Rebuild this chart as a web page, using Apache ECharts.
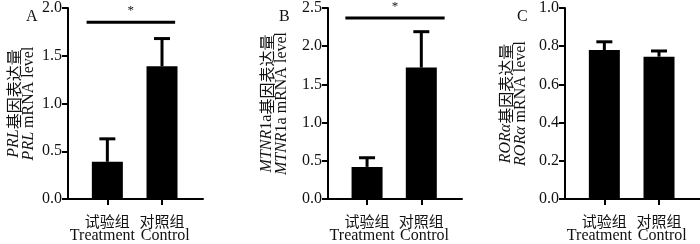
<!DOCTYPE html>
<html>
<head>
<meta charset="utf-8">
<script src="https://cdn.jsdelivr.net/npm/echarts@6/dist/echarts.min.js"></script>
<style>
  html, body { margin: 0; padding: 0; background: #fff; }
  #chart { width: 700px; height: 244px; }
</style>
</head>
<body>
<div id="chart"></div>
<script>
// groups on the x axis (position 1 and 2)
const groupPos = [1, 2];
const groupsCn = ['试验组', '对照组'];
const groupsEn = ['Treatment', 'Control'];
// english line sits a little off the bar centres, like the original
const groupsEnPos = [0.91, 2.06];

// A: PRL
const prlMean = [0.39, 1.39];
const prlErr = [0.24, 0.29];
// B: MTNR1a
const mtnrMean = [0.42, 1.72];
const mtnrErr = [0.12, 0.47];
// C: RORα
const roraMean = [0.78, 0.745];
const roraErr = [0.043, 0.03];

// significance bar: [from, to, y]
const sigA = [0.62, 2.24, 1.85];
const sigB = [0.6, 2.43, 2.37];

const yMaxes = [2, 2.5, 1];
const yStep = [0.5, 0.5, 0.2];

const serif = 'Liberation Serif';
const cjk = 'Noto Sans CJK SC';
const ink = '#111';

const chart = echarts.init(document.getElementById('chart'));

const grids = [
  { left: 68, top: 6, width: 135, bottom: 40 },
  { left: 328, top: 7, width: 134, bottom: 40 },
  { left: 565, top: 5, width: 135, bottom: 40 }
];

const yNames = [
  '{i|PRL}{c|基因表达量}\n{i|PRL}{t| mRNA level}',
  '{i|MTNR}{t|1a}{c|基因表达量}\n{i|MTNR}{t|1a mRNA level}',
  '{i|RORα}{c|基因表达量}\n{i|RORα}{t| mRNA level}'
];
const nameGaps = [32, 39, 37];

const nameRich = {
  i: { fontFamily: serif, fontStyle: 'italic', fontSize: 16, lineHeight: 15, color: ink },
  t: { fontFamily: serif, fontSize: 16, lineHeight: 15, color: ink },
  c: { fontFamily: cjk, fontSize: 16, lineHeight: 15, color: ink }
};

const axisLine = { show: true, lineStyle: { color: '#000', width: 2 } };
const axisTick = { show: true, length: 6, lineStyle: { color: '#000', width: 2 } };

const xAxes = grids.map((g, i) => ({
  type: 'value',
  gridIndex: i,
  position: 'bottom',
  min: 0.28,
  max: 2.75,
  splitLine: { show: false },
  axisLine: axisLine,
  axisTick: Object.assign({ customValues: groupPos }, axisTick),
  axisLabel: {
    customValues: groupPos,
    margin: 15,
    fontFamily: cjk,
    fontSize: 15,
    color: ink,
    formatter: v => groupsCn[v - 1]
  }
}));
// second bottom axis per panel carrying the english line
grids.forEach((g, i) => {
  xAxes.push({
    type: 'value',
    gridIndex: i,
    position: 'bottom',
    offset: 0,
    min: 0.28,
    max: 2.75,
    splitLine: { show: false },
    axisLine: { show: false },
    axisTick: { show: false },
    axisLabel: {
      customValues: groupsEnPos,
      margin: 29,
      fontFamily: serif,
      fontSize: 16,
      color: ink,
      formatter: v => groupsEn[groupsEnPos.indexOf(v)]
    }
  });
});

const yAxes = grids.map((g, i) => ({
  type: 'value',
  gridIndex: i,
  min: 0,
  max: yMaxes[i],
  interval: yStep[i],
  splitLine: { show: false },
  axisLine: axisLine,
  axisTick: axisTick,
  axisLabel: {
    margin: 6,
    fontFamily: serif,
    fontSize: 16,
    color: ink,
    formatter: v => v.toFixed(1)
  },
  name: yNames[i],
  nameLocation: 'middle',
  nameGap: nameGaps[i],
  nameRotate: 90,
  nameTextStyle: { rich: nameRich }
}));

function errItem(params, api) {
  const x = api.value(0), y = api.value(1), e = api.value(2);
  const base = api.coord([x, y]);
  const top = api.coord([x, y + e]);
  return {
    type: 'group',
    children: [
      { type: 'line', shape: { x1: base[0], y1: base[1], x2: top[0], y2: top[1] }, style: { stroke: '#000', lineWidth: 3 } },
      { type: 'line', shape: { x1: top[0] - 8, y1: top[1], x2: top[0] + 8, y2: top[1] }, style: { stroke: '#000', lineWidth: 3 } }
    ]
  };
}

function sigItem(params, api) {
  const a = api.coord([api.value(0), api.value(2)]);
  const b = api.coord([api.value(1), api.value(2)]);
  return {
    type: 'group',
    children: [
      { type: 'line', shape: { x1: a[0], y1: a[1], x2: b[0], y2: b[1] }, style: { stroke: '#000', lineWidth: 3 } },
      { type: 'text', x: (a[0] + b[0]) / 2, y: a[1] - 5,
        style: { text: '*', fill: ink, font: '13px "Liberation Serif"', align: 'center', verticalAlign: 'bottom' } }
    ]
  };
}

const means = [prlMean, mtnrMean, roraMean];
const errs = [prlErr, mtnrErr, roraErr];

const series = [];
means.forEach((m, i) => {
  series.push({
    type: 'bar',
    xAxisIndex: i,
    yAxisIndex: i,
    barWidth: 31,
    itemStyle: { color: '#000' },
    data: groupPos.map((p, k) => [p, m[k]])
  });
  series.push({
    type: 'custom',
    xAxisIndex: i,
    yAxisIndex: i,
    renderItem: errItem,
    clip: false,
    z: 3,
    data: groupPos.map((p, k) => [p, m[k], errs[i][k]])
  });
});
[sigA, sigB].forEach((s, i) => {
  series.push({
    type: 'custom',
    xAxisIndex: i,
    yAxisIndex: i,
    renderItem: sigItem,
    clip: false,
    data: [s]
  });
});

const panelLabels = ['A', 'B', 'C'];
const panelX = [21, 274, 512];

chart.setOption({
  animation: false,
  backgroundColor: '#fff',
  title: panelLabels.map((t, i) => ({
    text: t,
    left: panelX[i],
    top: 4,
    textStyle: { fontFamily: serif, fontSize: 16, fontWeight: 'normal', color: ink }
  })),
  grid: grids,
  xAxis: xAxes,
  yAxis: yAxes,
  series: series
});
</script>
</body>
</html>
